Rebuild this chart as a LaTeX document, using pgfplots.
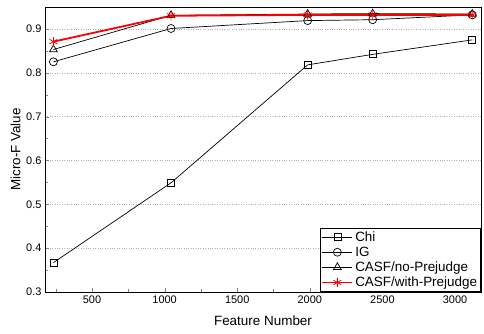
\documentclass[border=0pt]{standalone}
\usepackage{fontspec}
\setmainfont{Liberation Sans}
\usepackage{pgfplots}
\pgfplotsset{compat=1.18}
\begin{document}
\begin{tikzpicture}[x=1bp,y=1bp]
\begin{axis}[
  name=ax,
  scale only axis,
  width=436bp, height=285bp,
  xmin=176, xmax=3179,
  ymin=0.3, ymax=0.95,
  xtick={500,1000,1500,2000,2500,3000},
  minor xtick={250,750,1250,1750,2250,2750},
  ytick={0.3,0.4,0.5,0.6,0.7,0.8,0.9},
  minor ytick={0.35,0.45,0.55,0.65,0.75,0.85},
  tick pos=left,
  tick align=inside,
  major tick length=4bp,
  minor tick length=2.5bp,
  ymajorgrids,
  major grid style={dotted, gray!60},
  /pgf/number format/assume math mode=true,
  yticklabel style={/pgf/number format/fixed,/pgf/number format/precision=1, font=\fontsize{11}{12}\selectfont},
  xticklabel style={font=\fontsize{11}{12}\selectfont},
  scaled x ticks=false,
  xticklabel={\pgfmathprintnumber[fixed,1000 sep={}]{\tick}},
  xlabel={Feature Number},
  ylabel={Micro-F Value},
  label style={font=\fontsize{13.5}{15}\selectfont},
  xlabel style={yshift=-6bp},
  ylabel style={yshift=-1bp},
  axis line style={black, line width=0.8bp},
  legend cell align=left,
  legend style={font=\fontsize{13.5}{14}\selectfont, draw=black, line width=0.8bp, inner sep=1.5bp, row sep=0bp, at={(1,0)}, anchor=south east},
  legend image code/.code={\draw[mark repeat=2,mark phase=2] plot coordinates {(0bp,0bp) (15bp,0bp) (30bp,0bp)};},
]
\addplot[black, line width=0.7bp, mark=square, mark size=3.5bp, mark options={fill=white, line width=0.7bp}]
  coordinates {(234,0.367) (1044,0.549) (1985,0.818) (2433,0.842) (3119,0.875)};
\addlegendentry{Chi}
\addplot[black, line width=0.7bp, mark=o, mark size=4bp, mark options={fill=white, line width=0.7bp}]
  coordinates {(234,0.825) (1044,0.901) (1985,0.919) (2433,0.921) (3119,0.932)};
\addlegendentry{IG}
\addplot[black, line width=0.7bp, mark=triangle, mark size=4.5bp, mark options={fill=white, line width=0.7bp}]
  coordinates {(234,0.853) (1044,0.931) (1985,0.934) (2433,0.935) (3119,0.934)};
\addlegendentry{CASF/no-Prejudge}
\addplot[red, line width=1.8bp, mark=asterisk, mark size=4.5bp, mark options={line width=0.8bp}]
  coordinates {(234,0.871) (1044,0.930) (1985,0.932) (2433,0.932) (3119,0.932)};
\addlegendentry{CASF/with-Prejudge}
\end{axis}
\path[use as bounding box] ([shift={(-45bp,-42bp)}]ax.south west) rectangle ([shift={(3bp,7bp)}]ax.north east);
\end{tikzpicture}
\end{document}
